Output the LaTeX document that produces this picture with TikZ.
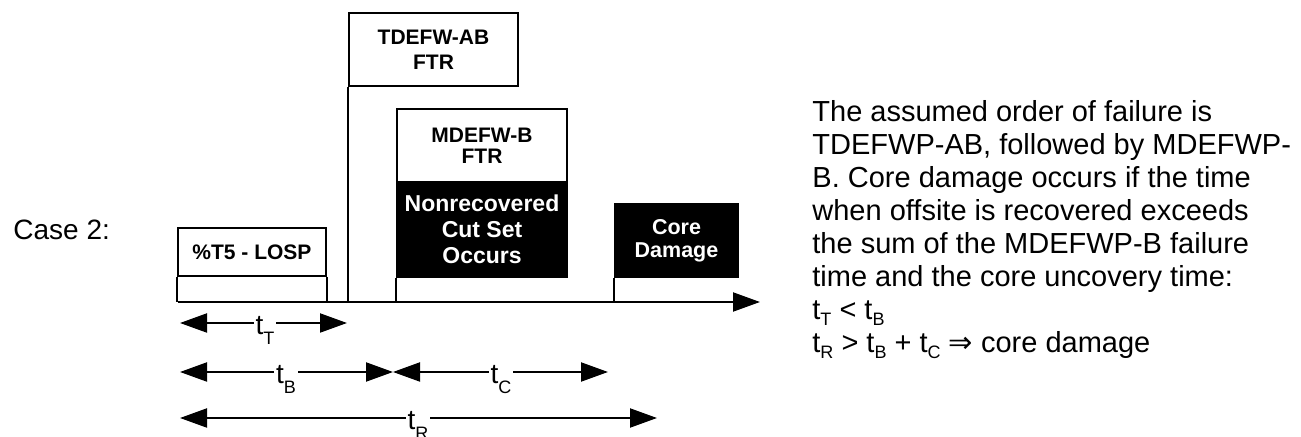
\documentclass[tikz,border=0pt]{standalone}
\usepackage{fontspec}
\setmainfont{Liberation Sans}
\newfontfamily\dejavu{DejaVu Sans}
\usetikzlibrary{arrows.meta}
\newcommand\tlab[1]{t\raisebox{-5pt}{\fontsize{9}{9}\selectfont #1}}
\newcommand\sbs[1]{\raisebox{-3pt}{\fontsize{9}{9}\selectfont #1}}
\tikzset{
  lbox/.style={draw, line width=1pt, fill=white, inner sep=0pt, align=center,
    font=\fontsize{10.5}{12.5}\selectfont\bfseries},
  bbox/.style={draw, line width=1pt, fill=black, text=white, inner sep=0pt, align=center},
  stem/.style={line width=1pt},
  tri/.tip={Triangle[length=13.5pt,width=9.5pt]},
  axisarrow/.style={line width=1pt, -tri},
  dimarrow/.style={line width=1pt, tri-tri},
  dimlabel/.style={fill=white, inner sep=1pt, anchor=base, font=\fontsize{14}{14}\selectfont},
  rtext/.style={anchor=base west, inner sep=0pt, font=\fontsize{14.5}{16.5}\selectfont},
}
\begin{document}
\begin{tikzpicture}[x=0.5pt, y=-0.5pt]
\useasboundingbox (0,0) rectangle (1301,437);

% axis
\coordinate (ax0) at (178,302);
\coordinate (ax1) at (760,302);

% boxes
\node[lbox, minimum width=74pt, minimum height=24pt] (losp) at (252,252) {\%T5 - LOSP};
\node[lbox, minimum width=84.5pt, minimum height=36.5pt] (td) at (433.5,49.5) {TDEFW-AB\\FTR};
\node[lbox, minimum width=85pt, minimum height=36.5pt, font=\fontsize{10.5}{10.5}\selectfont\bfseries] (md) at (482,145.5) {MDEFW-B\\FTR};
\node[bbox, minimum width=85pt, minimum height=47.5pt, font=\fontsize{11.5}{13}\selectfont\bfseries] (nr) at (482,229.5) {Nonrecovered\\Cut Set\\Occurs};
\node[bbox, minimum width=61.5pt, minimum height=36.5pt, font=\fontsize{10.75}{11.5}\selectfont\bfseries] (cd) at (676.5,240.5) {Core\\Damage};

% stems
\draw[stem] (losp.south west) -- (losp.south west |- ax0);
\draw[stem] (losp.south east) -- (losp.south east |- ax0);
\draw[stem] (td.south west) -- (td.south west |- ax0);
\draw[stem] (nr.south west) -- (nr.south west |- ax0);
\draw[stem] (cd.south west) -- (cd.south west |- ax0);

\draw[axisarrow] (ax0) -- (ax1);

% case label
\node[anchor=base west, inner sep=0pt, font=\fontsize{14}{14}\selectfont] (case) at (13,240) {Case 2:};

% dimension arrows
\coordinate (tT0) at (180,323);
\coordinate (tT1) at (347,323);
\coordinate (tB0) at (180,372);
\coordinate (tB1) at (393,372);
\coordinate (tC0) at (393,372);
\coordinate (tC1) at (608,372);
\coordinate (tR0) at (180,418);
\coordinate (tR1) at (657,418);

\draw[dimarrow] (tT0) -- (tT1);
\draw[dimarrow] (tB0) -- (tB1);
\draw[dimarrow] (tC0) -- (tC1);
\draw[dimarrow] (tR0) -- (tR1);

\node[dimlabel] (lT) at (265,335) {\tlab{T}};
\node[dimlabel] (lB) at (286,384) {\tlab{B}};
\node[dimlabel] (lC) at (501,384) {\tlab{C}};
\node[dimlabel] (lR) at (418,430) {\tlab{R}};

% explanatory text
\node[rtext] (r1) at (812,122) {The assumed order of failure is};
\node[rtext] (r2) at (812,155) {TDEFWP-AB, followed by MDEFWP-};
\node[rtext] (r3) at (812,188) {B. Core damage occurs if the time};
\node[rtext] (r4) at (812,221) {when offsite is recovered exceeds};
\node[rtext] (r5) at (812,254) {the sum of the MDEFWP-B failure};
\node[rtext] (r6) at (812,287) {time and the core uncovery time:};
\node[rtext] (r7) at (812,320) {t\sbs{T} < t\sbs{B}};
\node[rtext] (r8) at (812,353) {t\sbs{R} > t\sbs{B} + t\sbs{C} {\dejavu ⇒} core damage};
\end{tikzpicture}
\end{document}
